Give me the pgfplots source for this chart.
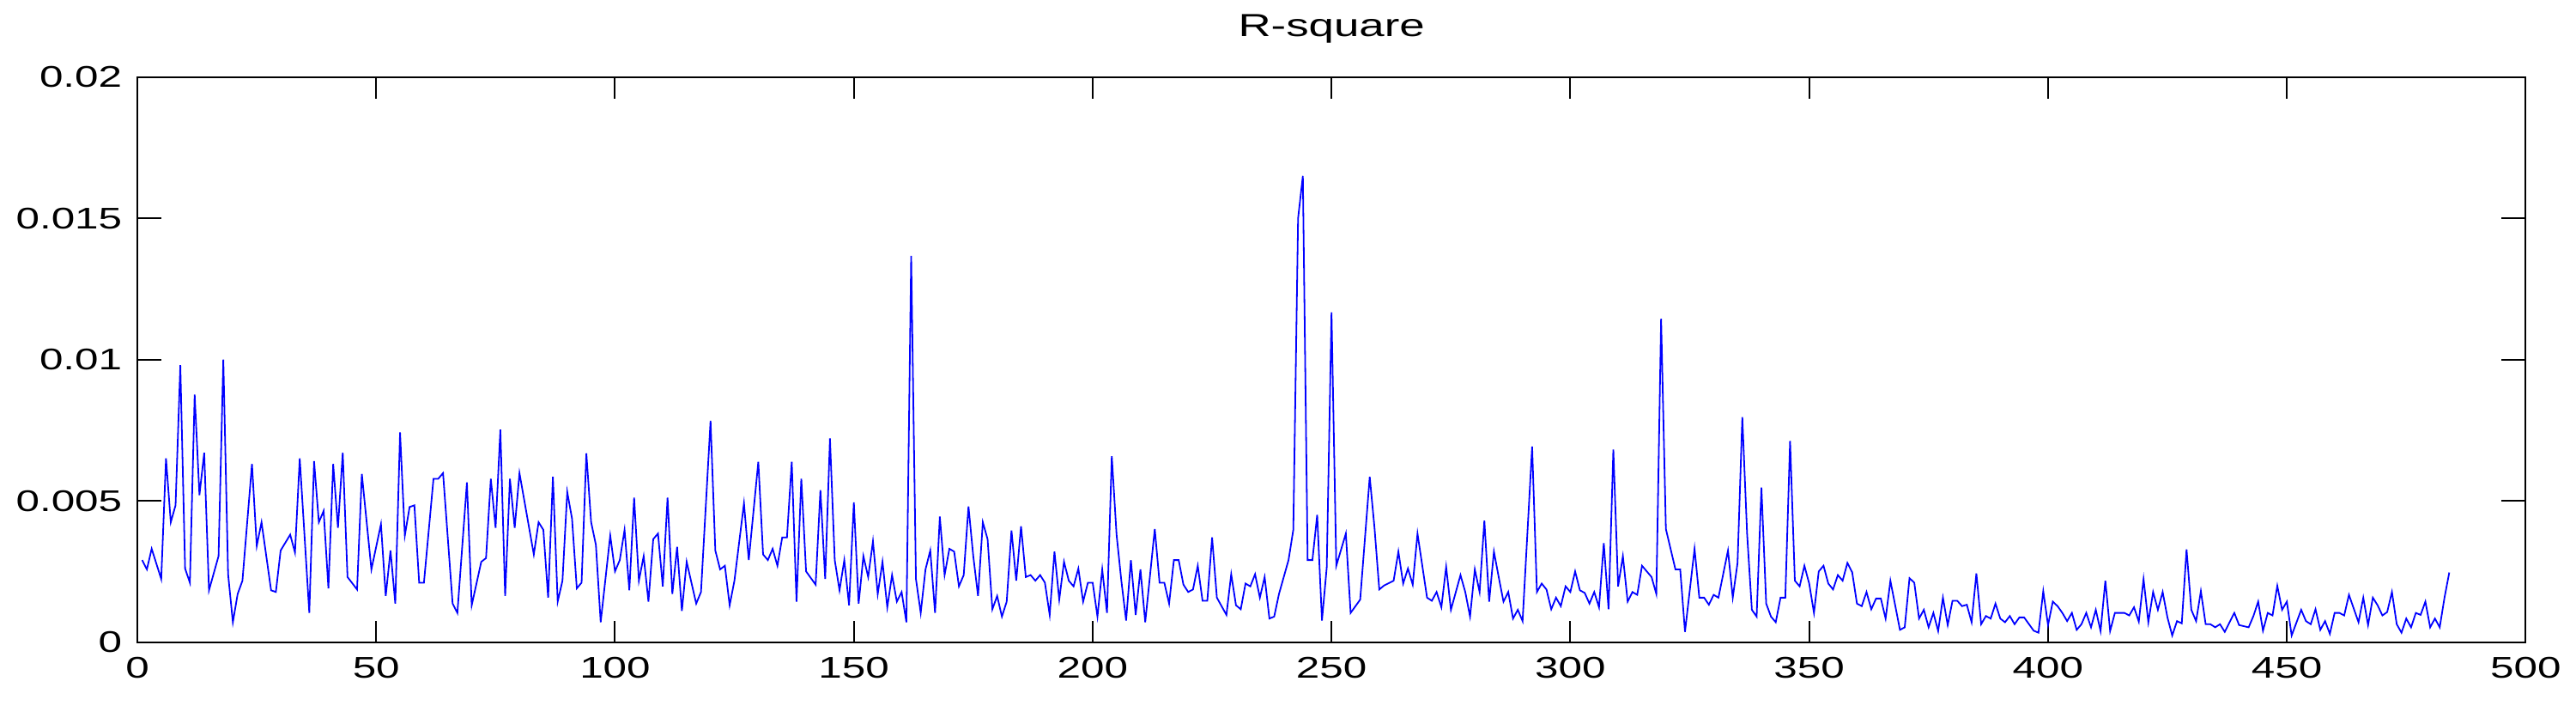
\documentclass[border=0pt]{standalone}
\usepackage{fontspec}
\setmainfont{Liberation Sans}[FakeStretch=1.42]
\usepackage{pgfplots}
\pgfplotsset{compat=1.18}
\begin{document}
\begin{tikzpicture}
\path (0,0) rectangle (750.25pt,207pt);
\begin{axis}[
  at={(40pt,20.125pt)}, anchor=south west,
  scale only axis, width=695.6pt, height=164.45pt,
  xmin=0, xmax=500, ymin=0, ymax=0.02,
  scaled y ticks=false, scaled x ticks=false,
  xtick={0,50,100,150,200,250,300,350,400,450,500},
  xticklabels={0,50,100,150,200,250,300,350,400,450,500},
  ytick={0,0.005,0.01,0.015,0.02},
  yticklabels={0,0.005,0.01,0.015,0.02},
  tick align=inside, tick pos=both,
  major tick length=7pt,
  xtick style={/pgfplots/major tick length=6.2pt},
  axis line style={line width=0.5pt},
  every tick/.style={black, line width=0.5pt},
  ticklabel style={font=\fontsize{8.7}{10}\selectfont},
  xticklabel style={inner sep=0pt, anchor=north, yshift=-4.1pt},
  yticklabel style={inner sep=0pt, anchor=east, xshift=-4.25pt},
  every axis title shift=0pt,
  title={R-square},
  title style={font=\fontsize{9.3}{11}\selectfont, at={(0.5,1)}, anchor=base, yshift=11.75pt, inner sep=0pt},
  clip=true,
]
\addplot[color={rgb,255:red,0;green,0;blue,255}, line width=0.45pt, mark=none] table {
x y
1 0.00290
2 0.00257
3 0.00330
5 0.00223
6 0.00650
7 0.00424
8 0.00484
9 0.00980
10 0.00260
11 0.00210
12 0.00876
13 0.00520
14 0.00670
15 0.00183
17 0.00304
18 0.01000
19 0.00240
20 0.00070
21 0.00170
22 0.00217
24 0.00630
25 0.00340
26 0.00424
28 0.00183
29 0.00177
30 0.00324
32 0.00380
33 0.00317
34 0.00650
36 0.00103
37 0.00640
38 0.00424
39 0.00464
40 0.00190
41 0.00630
42 0.00404
43 0.00670
44 0.00230
46 0.00186
47 0.00595
49 0.00257
51 0.00417
52 0.00163
53 0.00324
54 0.00136
55 0.00742
56 0.00377
57 0.00478
58 0.00484
59 0.00210
60 0.00210
62 0.00578
63 0.00578
64 0.00598
66 0.00136
67 0.00103
69 0.00565
70 0.00130
72 0.00284
73 0.00297
74 0.00578
75 0.00404
76 0.00752
77 0.00163
78 0.00578
79 0.00404
80 0.00598
83 0.00310
84 0.00424
85 0.00397
86 0.00157
87 0.00585
88 0.00143
89 0.00217
90 0.00531
91 0.00437
92 0.00190
93 0.00210
94 0.00668
95 0.00424
96 0.00344
97 0.00070
99 0.00377
100 0.00250
101 0.00290
102 0.00397
103 0.00183
104 0.00511
105 0.00217
106 0.00304
107 0.00143
108 0.00364
109 0.00384
110 0.00197
111 0.00511
112 0.00170
113 0.00337
114 0.00110
115 0.00284
117 0.00136
118 0.00177
120 0.00783
121 0.00324
122 0.00257
123 0.00270
124 0.00130
125 0.00217
127 0.00491
128 0.00290
130 0.00638
131 0.00310
132 0.00290
133 0.00330
134 0.00270
135 0.00370
136 0.00370
137 0.00638
138 0.00143
139 0.00578
140 0.00250
142 0.00203
143 0.00538
144 0.00223
145 0.00721
146 0.00290
147 0.00183
148 0.00290
149 0.00130
150 0.00494
151 0.00136
152 0.00304
153 0.00230
154 0.00357
155 0.00170
156 0.00284
157 0.00123
158 0.00237
159 0.00143
160 0.00177
161 0.00070
162 0.01367
163 0.00223
164 0.00103
165 0.00257
166 0.00324
167 0.00103
168 0.00444
169 0.00237
170 0.00330
171 0.00320
172 0.00197
173 0.00237
174 0.00480
175 0.00304
176 0.00163
177 0.00424
178 0.00364
179 0.00116
180 0.00163
181 0.00090
182 0.00143
183 0.00395
184 0.00217
185 0.00410
186 0.00230
187 0.00237
188 0.00217
189 0.00237
190 0.00210
191 0.00096
192 0.00320
193 0.00150
194 0.00284
195 0.00217
196 0.00197
197 0.00260
198 0.00143
199 0.00210
200 0.00210
201 0.00090
202 0.00257
203 0.00103
204 0.00658
205 0.00380
206 0.00217
207 0.00076
208 0.00290
209 0.00096
210 0.00257
211 0.00070
213 0.00400
214 0.00210
215 0.00210
216 0.00136
217 0.00290
218 0.00290
219 0.00203
220 0.00177
221 0.00186
222 0.00270
223 0.00146
224 0.00146
225 0.00370
226 0.00157
228 0.00096
229 0.00240
230 0.00130
231 0.00116
232 0.00207
233 0.00197
234 0.00240
235 0.00157
236 0.00230
237 0.00083
238 0.00090
239 0.00170
241 0.00290
242 0.00397
243 0.01500
244 0.01650
245 0.00290
246 0.00290
247 0.00450
248 0.00076
249 0.00264
250 0.01167
251 0.00270
253 0.00384
254 0.00103
256 0.00150
258 0.00585
259 0.00404
260 0.00186
261 0.00200
263 0.00217
264 0.00320
265 0.00207
266 0.00260
267 0.00203
268 0.00384
270 0.00157
271 0.00146
272 0.00177
273 0.00123
274 0.00266
275 0.00114
277 0.00237
278 0.00177
279 0.00090
280 0.00257
281 0.00177
282 0.00430
283 0.00143
284 0.00320
285 0.00230
286 0.00143
287 0.00177
288 0.00083
289 0.00114
290 0.00074
292 0.00692
293 0.00177
294 0.00207
295 0.00186
296 0.00116
297 0.00157
298 0.00127
299 0.00197
300 0.00177
301 0.00250
302 0.00183
303 0.00174
304 0.00136
305 0.00177
306 0.00123
307 0.00350
308 0.00116
309 0.00681
310 0.00197
311 0.00304
312 0.00143
313 0.00177
314 0.00167
315 0.00270
316 0.00250
317 0.00230
318 0.00170
319 0.01144
320 0.00400
322 0.00257
323 0.00257
324 0.00036
326 0.00330
327 0.00157
328 0.00157
329 0.00132
330 0.00167
331 0.00157
333 0.00324
334 0.00157
335 0.00280
336 0.00796
337 0.00384
338 0.00114
339 0.00090
340 0.00547
341 0.00136
342 0.00090
343 0.00070
344 0.00157
345 0.00157
346 0.00712
347 0.00217
348 0.00197
349 0.00270
350 0.00207
351 0.00103
352 0.00250
353 0.00270
354 0.00207
355 0.00186
356 0.00237
357 0.00217
358 0.00280
359 0.00247
360 0.00136
361 0.00127
362 0.00177
363 0.00116
364 0.00154
365 0.00154
366 0.00083
367 0.00217
369 0.00043
370 0.00052
371 0.00226
372 0.00210
373 0.00083
374 0.00114
375 0.00052
376 0.00103
377 0.00039
378 0.00157
379 0.00060
380 0.00146
381 0.00146
382 0.00127
383 0.00132
384 0.00070
385 0.00243
386 0.00063
387 0.00092
388 0.00083
389 0.00136
390 0.00083
391 0.00070
392 0.00092
393 0.00063
394 0.00087
395 0.00087
397 0.00040
398 0.00033
399 0.00180
400 0.00060
401 0.00143
402 0.00127
403 0.00103
404 0.00074
405 0.00103
406 0.00043
407 0.00063
408 0.00103
409 0.00052
410 0.00114
411 0.00039
412 0.00217
413 0.00039
414 0.00103
416 0.00103
417 0.00094
418 0.00123
419 0.00072
420 0.00223
421 0.00070
422 0.00177
423 0.00114
424 0.00177
425 0.00087
426 0.00023
427 0.00074
428 0.00066
429 0.00328
430 0.00114
431 0.00074
432 0.00180
433 0.00063
434 0.00063
435 0.00052
436 0.00063
437 0.00036
438 0.00070
439 0.00103
440 0.00060
442 0.00052
443 0.00092
444 0.00143
445 0.00040
446 0.00103
447 0.00094
448 0.00199
449 0.00114
450 0.00143
451 0.00023
453 0.00114
454 0.00074
455 0.00063
456 0.00116
457 0.00043
458 0.00074
459 0.00029
460 0.00103
461 0.00103
462 0.00094
463 0.00167
465 0.00070
466 0.00157
467 0.00060
468 0.00157
469 0.00130
470 0.00094
471 0.00106
472 0.00177
473 0.00063
474 0.00033
475 0.00083
476 0.00052
477 0.00103
478 0.00096
479 0.00143
480 0.00052
481 0.00083
482 0.00052
483 0.00157
484 0.00246
};
\end{axis}
\end{tikzpicture}
\end{document}
